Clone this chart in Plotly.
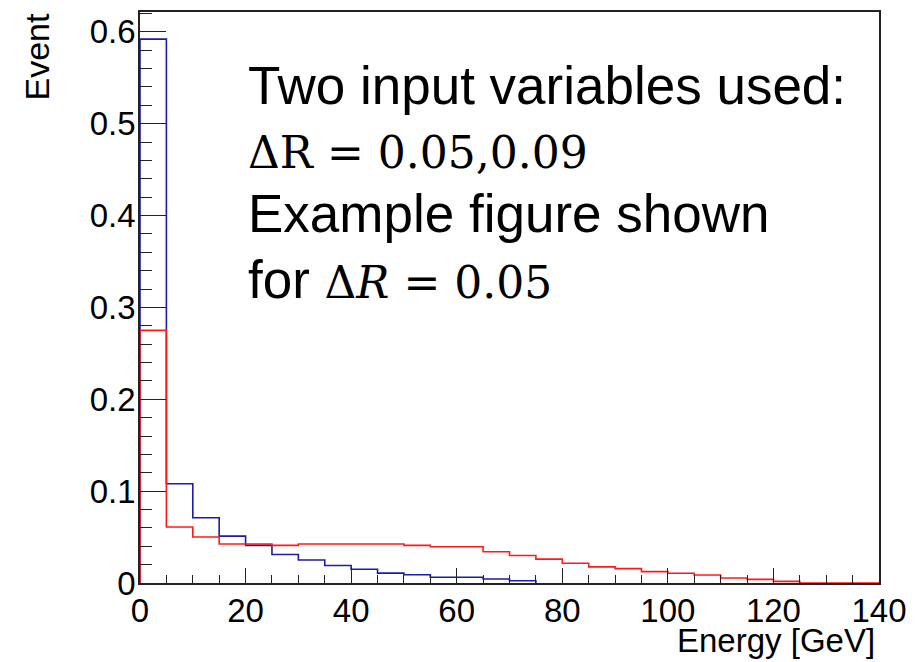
import plotly.graph_objects as go

# Histogram binning: 28 bins of 5 GeV from 0 to 140 GeV
bin_edges = [5 * i for i in range(29)]

# Normalised event fractions per bin
blue_counts = [0.592, 0.108, 0.071, 0.051, 0.041, 0.031, 0.025, 0.019,
               0.015, 0.0108, 0.009, 0.0063, 0.0063, 0.0043, 0.0025]
red_counts = [0.275, 0.061, 0.050, 0.0425, 0.0425, 0.041, 0.0425, 0.0425,
              0.0425, 0.0425, 0.041, 0.0395, 0.0395, 0.034, 0.030, 0.026,
              0.0215, 0.0175, 0.0157, 0.0124, 0.0106, 0.0087, 0.0055, 0.004,
              0.0018, 0.0, 0.0, 0.0]

x_ticks = [0, 20, 40, 60, 80, 100, 120, 140]
y_ticks = [0, 0.1, 0.2, 0.3, 0.4, 0.5, 0.6]

annotation_lines = [
    "Two input variables used:",
    "ΔR = 0.05,0.09",
    "Example figure shown",
    "for ΔR = 0.05",
]

W, H = 922, 662
L, R, T, B = 140, 43, 10, 79


def step_outline(edges, counts):
    """ROOT-like histogram outline: up from baseline, steps, back down."""
    xs = [edges[0]]
    ys = [0.0]
    for i, c in enumerate(counts):
        xs += [edges[i], edges[i + 1]]
        ys += [c, c]
    xs.append(edges[len(counts)])
    ys.append(0.0)
    return xs, ys


def px_x(px):
    return (px - L) / (W - L - R)


def px_y(py):
    return 1 - (py - T) / (H - T - B)


fig = go.Figure()

bx, by = step_outline(bin_edges, blue_counts)
rx, ry = step_outline(bin_edges, red_counts)

fig.add_trace(go.Scatter(x=bx, y=by, mode="lines",
                         line=dict(color="#1c1ca8", width=1.6),
                         showlegend=False, cliponaxis=True))
fig.add_trace(go.Scatter(x=rx, y=ry, mode="lines",
                         line=dict(color="#ff1a1a", width=1.6),
                         showlegend=False, cliponaxis=True))

tick_font = dict(family="Liberation Sans, Arial, sans-serif", size=33, color="black")

fig.update_xaxes(
    range=[0, 140], tickvals=x_ticks, ticktext=[str(v) for v in x_ticks],
    ticks="inside", ticklen=15, tickwidth=1.2, tickcolor="#222",
    minor=dict(ticks="inside", ticklen=8, dtick=5, tick0=0, tickwidth=1.2, tickcolor="#222"),
    showline=True, linecolor="#222", linewidth=1.5, mirror=True, layer="above traces",
    showgrid=False, zeroline=False, tickfont=tick_font, ticklabelstandoff=-2,
)
fig.update_yaxes(
    range=[0, 0.6215], tickvals=y_ticks, ticktext=["0", "0.1", "0.2", "0.3", "0.4", "0.5", "0.6"],
    ticks="inside", ticklen=26, tickwidth=1.2, tickcolor="#222",
    minor=dict(ticks="inside", ticklen=12, dtick=0.02, tick0=0, tickwidth=1.2, tickcolor="#222"),
    showline=True, linecolor="#222", linewidth=1.5, mirror=True, layer="above traces",
    showgrid=False, zeroline=False, tickfont=tick_font, ticklabelstandoff=-4,
)

sans = "Liberation Sans, Arial, sans-serif"
serif_span = "<span style=\"font-family:'DejaVu Serif',serif;font-size:44px\">{}</span>"

text_rows = [
    (annotation_lines[0], 84),
    (serif_span.format(annotation_lines[1]), 151),
    (annotation_lines[2], 212),
    ("for " + serif_span.format("Δ<i>R</i> = 0.05"), 278),
]
for txt, py in text_rows:
    fig.add_annotation(text=txt, xref="paper", yref="paper",
                       x=px_x(246), y=px_y(py), xanchor="left", yanchor="middle",
                       showarrow=False, font=dict(family=sans, size=53, color="black"))

# Axis titles placed at the axis ends
fig.add_annotation(text="Energy [GeV]", xref="paper", yref="paper",
                   x=px_x(877), y=px_y(641), xanchor="right", yanchor="middle",
                   showarrow=False, font=dict(family=sans, size=33, color="black"))
fig.add_annotation(text="Event", xref="paper", yref="paper",
                   x=px_x(36), y=px_y(10), xanchor="center", yanchor="top",
                   textangle=-90, showarrow=False,
                   font=dict(family=sans, size=34, color="black"))

fig.update_layout(
    width=W, height=H,
    margin=dict(l=L, r=R, t=T, b=B),
    paper_bgcolor="white", plot_bgcolor="white",
    showlegend=False,
)

fig.write_html("out.html")
